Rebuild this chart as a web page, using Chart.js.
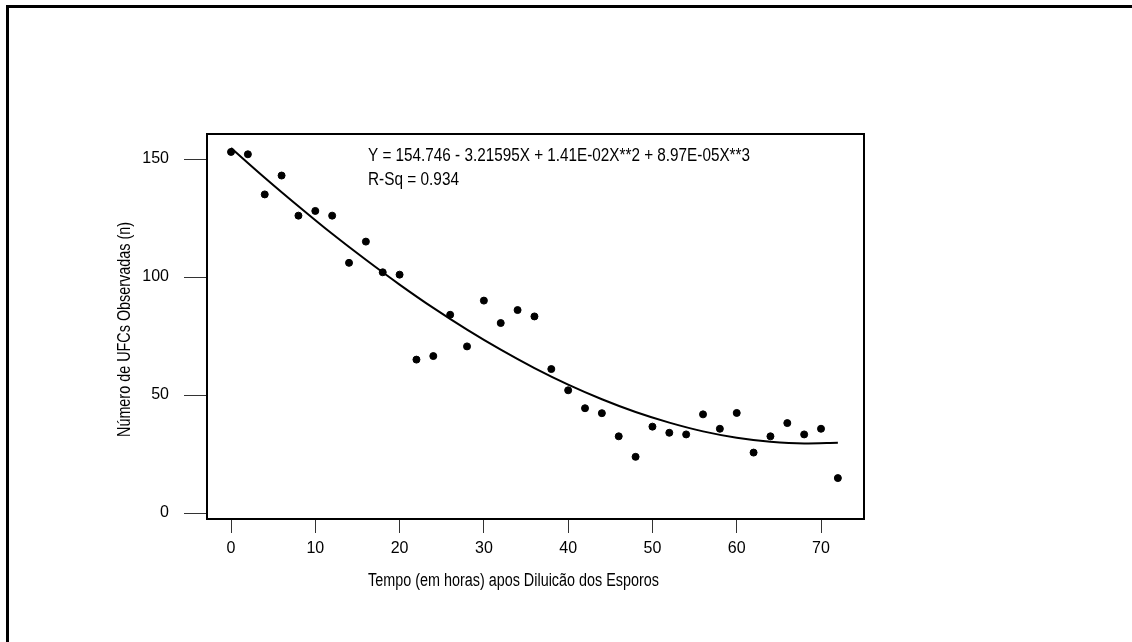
<!DOCTYPE html>
<html>
<head>
<meta charset="utf-8">
<script src="https://cdn.jsdelivr.net/npm/chart.js@4/dist/chart.umd.min.js"></script>
<style>
  body { margin: 0; background: #fff; }
  #moldura { position: absolute; left: 6px; top: 5px; right: 0; bottom: 0;
             border-top: 3px solid #000; border-left: 3px solid #000; pointer-events: none; }
</style>
</head>
<body>
<canvas id="grafico" width="1132" height="642"></canvas>
<div id="moldura"></div>
<script>
// dados
const horas = [0, 2, 4, 6, 8, 10, 12, 14, 16, 18, 20, 22, 24, 26, 28, 30, 32, 34, 36,
               38, 40, 42, 44, 46, 48, 50, 52, 54, 56, 58, 60, 62, 64, 66, 68, 70, 72]
const ufcObservadas = [153, 152, 135, 143, 126, 128, 126, 106, 115, 102, 101, 65, 66.5, 84, 70.6, 90, 80.5, 86, 83.3,
                       61, 52, 44.4, 42.3, 32.5, 23.8, 36.6, 34, 33.3, 41.8, 35.7, 42.4, 25.6, 32.5, 38.1, 33.3, 35.7, 14.8]

// curva ajustada
const horasAjuste = [0, 4, 8, 12, 16, 20, 24, 28, 32, 36, 40, 44, 48, 52, 56, 60, 64, 68, 72]
const ufcAjuste = [154.7, 142.1, 130.0, 118.3, 107.3, 96.8, 86.9, 77.7, 69.2, 61.4, 54.4, 48.2, 42.8, 38.3, 34.6, 31.9, 30.2, 29.5, 29.8]

const ticksX = [0, 10, 20, 30, 40, 50, 60, 70]
const ticksY = [0, 50, 100, 150]

const tituloX = "Tempo (em horas) apos Diluicão dos Esporos"
const tituloY = "Número de UFCs Observadas (n)"
const equacao = "Y = 154.746 - 3.21595X + 1.41E-02X**2 + 8.97E-05X**3"
const rQuadrado = "R-Sq = 0.934"

const FONTE = "Liberation Sans, Arial, sans-serif"

const textos = {
    id: "textos",
    afterDraw(chart) {
        const ctx = chart.ctx
        const area = chart.chartArea
        ctx.save()
        // caixa do grafico
        ctx.strokeStyle = "#000"
        ctx.lineWidth = 2
        ctx.strokeRect(area.left, area.top, area.right - area.left, area.bottom - area.top)

        ctx.fillStyle = "#000"
        ctx.font = "18px " + FONTE
        ctx.textBaseline = "middle"
        const fator = 215 / ctx.measureText(tituloY).width

        // equacao
        ctx.textAlign = "left"
        ctx.fillText(equacao, area.left + 161, area.top + 22, 382)
        ctx.fillText(rQuadrado, area.left + 161, area.top + 46, 91)

        // titulo x
        ctx.fillText(tituloX, area.left + 161, area.bottom + 62, ctx.measureText(tituloX).width * fator)

        // titulo y
        ctx.translate(125, (area.top + area.bottom) / 2 + 3)
        ctx.rotate(-Math.PI / 2)
        ctx.textAlign = "center"
        ctx.fillText(tituloY, 0, 0, 215)
        ctx.restore()
    }
}

new Chart(document.getElementById("grafico"), {
    data: {
        datasets: [
            {
                type: "scatter",
                data: horas.map((h, i) => ({ x: h, y: ufcObservadas[i] })),
                backgroundColor: "#000",
                borderColor: "#000",
                pointRadius: 3.5,
                pointHoverRadius: 3.5
            },
            {
                type: "line",
                data: horasAjuste.map((h, i) => ({ x: h, y: ufcAjuste[i] })),
                borderColor: "#000",
                borderWidth: 2,
                pointRadius: 0,
                cubicInterpolationMode: "monotone",
                fill: false
            }
        ]
    },
    options: {
        responsive: false,
        animation: false,
        layout: { autoPadding: false, padding: { top: 134, right: 268, left: 0, bottom: 0 } },
        plugins: { legend: { display: false }, tooltip: { enabled: false } },
        scales: {
            x: {
                type: "linear",
                min: -2.85,
                max: 75.1,
                afterBuildTicks: (scale) => { scale.ticks = ticksX.map(v => ({ value: v })) },
                afterFit: (scale) => { scale.height = 123 },
                border: { display: false },
                grid: { drawOnChartArea: false, drawTicks: true, tickLength: 14, color: "#333", lineWidth: 1 },
                ticks: { color: "#000", font: { family: FONTE, size: 16 }, padding: 6, maxRotation: 0 }
            },
            y: {
                type: "linear",
                min: -2.54,
                max: 160.6,
                afterBuildTicks: (scale) => { scale.ticks = ticksY.map(v => ({ value: v })) },
                afterFit: (scale) => { scale.width = 207 },
                border: { display: false },
                grid: { drawOnChartArea: false, drawTicks: true, tickLength: 23, color: "#333", lineWidth: 1 },
                ticks: { color: "#000", font: { family: FONTE, size: 16 }, padding: 15 }
            }
        }
    },
    plugins: [textos]
})
</script>
</body>
</html>
